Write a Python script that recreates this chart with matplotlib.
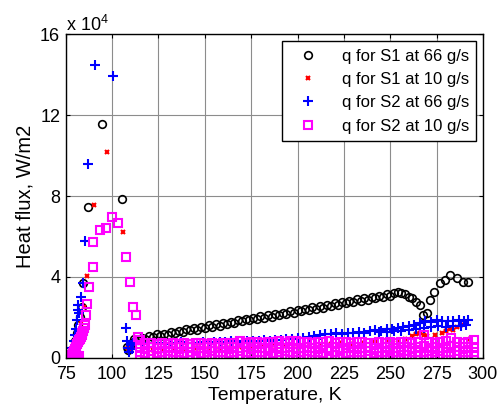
import numpy as np
import matplotlib
matplotlib.use('Agg')
import matplotlib.pyplot as plt

plt.rcParams['font.family'] = ['Liberation Sans', 'DejaVu Sans']
plt.rcParams['mathtext.fontset'] = 'custom'
plt.rcParams['mathtext.rm'] = 'Liberation Sans'

# S1 at 66 g/s (black circles)
t_s1_66 = [76.5, 77.5, 78.5, 79.2, 80.0, 80.9, 81.8, 82.7, 83.5, 84.5, 87.2, 94.7, 105.2, 107.9,
           108.5, 109.5, 110.5,
           112, 114, 116, 118, 120, 122, 124, 126, 128, 130, 132, 134, 136, 138, 140, 142, 144, 146,
           148, 150, 152, 154, 156, 158, 160, 162, 164, 166, 168, 170, 172, 174, 176, 178, 180, 182,
           184, 186, 188, 190, 192, 194, 196, 198, 200, 202, 204, 206, 208, 210, 212, 214, 216, 218,
           220, 222, 224, 226, 228, 230, 232, 234, 236, 238, 240, 242, 244, 246, 248, 250,
           252, 254, 256, 258, 260, 262, 264, 266, 267.8, 269.6, 271.4, 273.5, 276.8, 279.5, 282.2,
           285.8, 289.3, 292]
q_s1_66 = [500, 1500, 3000, 5000, 8000, 12000, 16000, 20000, 25000, 37000, 74500, 115700, 78600, 5400,
           4000, 6000, 7000,
           9300, 8800, 9900, 9200, 10900, 10300, 11500, 10700, 11800, 11400, 12900, 12100, 13300, 12600,
           14000, 13500, 14800, 13900, 15200, 14700, 16100, 15200, 16500, 15800, 17300, 16600, 17800,
           17100, 18500, 17900, 19200, 18400, 19700, 19100, 20500, 19700, 21000, 20300, 21800, 20900,
           22300, 21700, 23100, 22200, 23600, 22900, 24300, 23500, 24900, 24200, 25600, 24800, 26200,
           25500, 26900, 26100, 27400, 26800, 28100, 27400, 28800, 28000, 29300, 28700, 30100, 29300,
           30600, 30000, 31300, 30700,
           31900, 32700, 32200, 31400, 30200, 29300, 27600, 26100, 21100, 22000, 28600, 32700, 36700,
           38400, 40900, 39300, 37600, 37600]

# S1 at 10 g/s (red crosses)
t_s1_10 = [77, 78, 79, 80, 81, 82, 83, 84.9, 86.6, 90.3, 97.1, 105.7, 108.8,
           110, 116, 122, 128, 134, 140, 146, 152, 158, 164, 170, 176, 182, 188, 194, 200, 206, 212,
           218, 224, 230, 236, 242, 248, 254, 258, 262, 264, 266, 268, 270, 274, 278, 280, 282, 284,
           286, 288, 291, 293]
q_s1_10 = [500, 1500, 3000, 5000, 8000, 12000, 17000, 25200, 40400, 75600, 101700, 62100, 4600,
           3500, 4000, 3800, 4200, 4500, 4300, 4800, 5000, 4700, 5200, 5500, 5300, 5800, 6000, 5700,
           6200, 6500, 6300, 6800, 7000, 6800, 7300, 7500, 8000, 8500, 9000, 10700, 11500, 12000,
           11000, 10500, 11000, 12000, 13000, 14400, 13500, 15000, 16000, 17800, 9000]

# S2 at 66 g/s (blue plus)
t_s2_66 = [77.5, 78.2, 78.6, 79.3, 80.0, 80.5, 81.0, 81.6, 81.8, 82.3, 83.0, 84.5, 85.4, 87.2, 90.8,
           100.3, 107.5, 108.2, 108.8, 109.3, 110.0, 110.8, 111.5,
           113, 116, 119, 122, 125, 128, 131, 134, 137, 140, 143, 146, 149, 152, 155, 158, 161, 164,
           167, 170, 173, 176, 179, 182, 185, 188, 191, 194, 197, 200, 203, 206, 209, 212, 215, 218,
           221, 224, 227, 230, 233, 236, 239, 242, 245, 248, 251, 254, 257, 260, 263, 266, 269, 272,
           275, 278, 281, 284, 287, 290, 292,
           244, 248, 252, 256, 260, 264, 268, 272, 276, 280, 284, 288, 291]
q_s2_66 = [1000, 3000, 5000, 8000, 11000, 14000, 18700, 23400, 26100, 22000, 30000, 36800, 57900,
           95700, 144900, 139500, 14500, 8000, 5000, 3000, 6000, 4500, 7000,
           7300, 6800, 7300, 7000, 7400, 6900, 7300, 7100, 7500, 7000, 7400, 7200, 7600, 7100, 7500,
           7800, 7600, 8000, 7800, 8200, 8000, 8400, 8200, 8600, 8400, 8800, 8600, 9000, 9300, 9500,
           9900, 10300, 10800, 11300, 11800, 11500, 12000, 11700, 12200, 12000, 12500, 12300, 13200,
           13600, 13300, 14000, 14300, 14800, 15200, 15700, 16300, 17300, 18200, 17800, 18400, 18000,
           18300, 17900, 18400, 18200, 18700,
           12500, 12800, 13200, 13000, 13600, 14200, 14800, 15200, 15600, 15300, 15800, 15500, 16200]

# S2 at 10 g/s (magenta squares) - peak region
t_s2_10_peak = [77.5, 78, 78.5, 79, 79.5, 80, 80.5, 81, 81.5, 82, 82.5, 83, 83.5, 84, 84.5, 85,
                85.4, 85.8, 86.7, 87.7, 89.6, 89.9, 93.5, 96.7, 100.1, 103.4, 107.3, 109.7, 111.1,
                112.7, 113.8, 79, 80, 81, 82]
q_s2_10_peak = [200, 800, 1500, 2500, 3500, 4500, 5500, 6500, 7500, 8500, 9000, 10000, 11000, 12000,
                13000, 14500, 16300, 21100, 26600, 34800, 45000, 57400, 63200, 64400, 69800, 66500,
                50000, 37600, 25200, 21100, 10400, 0, 300, 600, 1000]

# S2 at 10 g/s - low band, four rows sharing temperatures
t_s2_10_band = [115, 118, 121, 124, 127, 130, 133, 136, 139, 142,
                145, 148, 151, 154, 157, 160, 163, 166, 169, 172,
                175, 178, 181, 184, 187, 190, 193, 196, 199, 202,
                205, 208, 211, 214, 217, 220, 223, 226, 229, 232,
                235, 238, 241, 244, 247, 250, 253, 256, 259, 262,
                265, 268, 271, 274, 277, 280, 283, 286, 289, 292,
                295]
q_band_a = [8600, 7000, 7400, 6800, 7200, 6600, 7100, 6900, 7300, 6700,
            7000, 7200, 6800, 7100, 6900, 7400, 7000, 7300, 8200, 7100,
            7500, 7800, 7200, 7600, 7900, 8300, 7400, 8100, 8200, 7500,
            7700, 7300, 7900, 7600, 8000, 7400, 7800, 7500, 7200, 7700,
            7900, 7400, 7100, 7600, 7300, 7800, 7000, 7500, 7700, 7200,
            7900, 11000, 7600, 7300, 7900, 8200, 9600, 7800, 7400, 7600,
            8800]
q_band_b = [5200, 4800, 5400, 4600, 5000, 5300, 4700, 5100, 4900, 5300,
            4600, 5000, 5400, 4800, 5200, 4700, 5100, 5500, 4900, 5200,
            4800, 5300, 5000, 4600, 5400, 5100, 4800, 5200, 5000, 4700,
            5300, 4900, 5100, 5500, 4800, 5200, 5000, 4600, 5300, 5100,
            4900, 5400, 5000, 4700, 5200, 5500, 4800, 5100, 5300, 4900,
            5200, 5600, 5000, 5400, 4800, 5300, 5700, 5100, 5500, 5200,
            5400]
q_band_c = [2900, 2500, 3100, 2300, 2800, 3200, 2600, 3000, 2400, 2900,
            3100, 2500, 2800, 3300, 2600, 3000, 2400, 2900, 3200, 2700,
            2500, 3000, 2800, 3200, 2400, 2900, 3100, 2600, 3000, 2700,
            3200, 2600, 2900, 2400, 3100, 2800, 3300, 2500, 2900, 3000,
            2700, 3100, 2500, 3000, 2800, 3200, 2600, 2900, 3100, 2700,
            3000, 2600, 3200, 2800, 3300, 2900, 2700, 3100, 2800, 3000,
            2900]
q_band_d = [900, 500, 1200, 300, 800, 600, 1100, 400, 900, 700,
            500, 1000, 300, 800, 600, 1200, 400, 900, 700, 1100,
            300, 800, 1000, 500, 900, 200, 700, 1100, 400, 800,
            600, 1000, 300, 900, 500, 1100, 200, 800, 1000, 300,
            700, 900, 0, 600, 1000, 400, 800, 0, 1100, 500,
            900, 700, 1200, 400, 1000, 600, 800, 1100, 500, 900,
            700]

labels = ['q for S1 at 66 g/s', 'q for S1 at 10 g/s', 'q for S2 at 66 g/s', 'q for S2 at 10 g/s']

t_s2_10 = t_s2_10_peak + t_s2_10_band * 4
q_s2_10 = q_s2_10_peak + q_band_a + q_band_b + q_band_c + q_band_d

fig = plt.figure(figsize=(5.02, 4.05), dpi=100)
ax = fig.add_axes([0.131, 0.117, 0.831, 0.798])

ax.plot(t_s1_66, q_s1_66, 'o', color='black', mfc='none', ms=5.5, mew=1.2, label=labels[0])
ax.plot(t_s1_10, q_s1_10, 'x', color='red', ms=3, mew=1.5, label=labels[1])
ax.plot(t_s2_66, q_s2_66, '+', color='blue', ms=7, mew=1.5, label=labels[2])
ax.plot(t_s2_10, q_s2_10, 's', color='magenta', mfc='none', ms=6, mew=1.5, label=labels[3])

ax.set_xlim(75, 300)
ax.set_ylim(0, 160000)
ax.set_xticks(range(75, 301, 25))
ax.set_yticks([0, 40000, 80000, 120000, 160000])
ax.set_yticklabels(['0', '4', '8', '12', '16'])
ax.tick_params(direction='in', top=True, right=True, labelsize=13, length=3)
ax.tick_params(axis='x', pad=6)
ax.tick_params(axis='y', pad=4)
ax.grid(True, color='0.55', lw=0.8)
ax.set_axisbelow(True)
for s in ax.spines.values():
    s.set_linewidth(1.0)

ax.set_xlabel('Temperature, K', fontsize=14, labelpad=3)
ax.set_ylabel('Heat flux, W/m2', fontsize=14.5, labelpad=4)
ax.text(0.0, 1.012, r'x 10$^\mathregular{4}$', transform=ax.transAxes, fontsize=13)

leg = ax.legend(loc='upper right', fontsize=12, frameon=True, fancybox=False,
                edgecolor='black', framealpha=1, borderaxespad=0.4, handletextpad=0.9,
                labelspacing=0.5, markerfirst=True, handlelength=2.2, borderpad=0.45)
leg.get_frame().set_linewidth(1.0)

plt.savefig('out.png', dpi=100)
